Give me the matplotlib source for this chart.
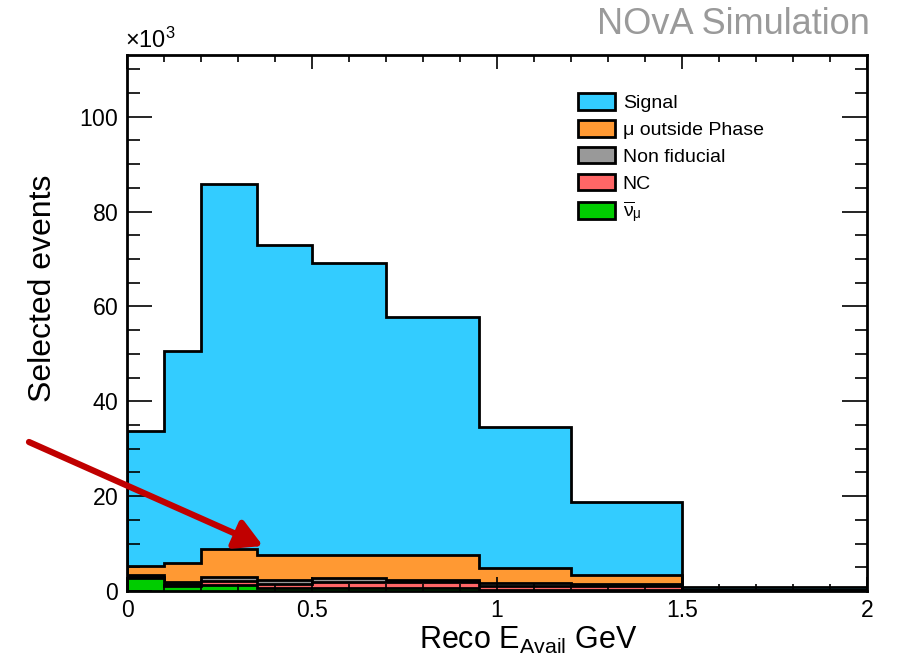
import numpy as np
import matplotlib
matplotlib.use('Agg')
import matplotlib.pyplot as plt
from matplotlib.patches import Patch
from matplotlib.ticker import MultipleLocator, ScalarFormatter, FormatStrFormatter

plt.rcParams['font.family'] = 'Liberation Sans'
plt.rcParams['mathtext.fontset'] = 'custom'
plt.rcParams['mathtext.rm'] = 'Liberation Sans'
plt.rcParams['mathtext.it'] = 'Liberation Sans:italic'
plt.rcParams['mathtext.bf'] = 'Liberation Sans:bold'

# reco available energy bins (GeV) and selected event counts per sample
edges = [0, 0.1, 0.2, 0.35, 0.5, 0.7, 0.95, 1.2, 1.5, 2.0]
signal = [28500, 44800, 77100, 65400, 61700, 50300, 29800, 15400, 500]
mu_outside = [2000, 3800, 5800, 5300, 4750, 5100, 3200, 1900, 150]
non_fiducial = [300, 500, 900, 850, 900, 600, 500, 400, 50]
nc = [250, 450, 900, 900, 1150, 1100, 800, 800, 50]
numubar = [2750, 1050, 1200, 550, 700, 700, 300, 300, 50]

labels = ['Signal', 'μ outside Phase', 'Non fiducial', 'NC',
          r'$\overline{\mathrm{ν}}_{\mathrm{μ}}$']
colors = ['#33ccff', '#ff9933', '#999999', '#ff6666', '#00cc00']

fig = plt.figure(figsize=(8.97, 6.70), dpi=100)
ax = fig.add_axes([127/897, 1 - 591/670, 740/897, 536/670])

# stack from the bottom up: numubar, NC, non fiducial, mu outside, signal
layers = [numubar, nc, non_fiducial, mu_outside, signal]
layer_colors = colors[::-1]
cum = np.cumsum(np.array(layers, dtype=float), axis=0)
for vals, col in reversed(list(zip(cum, layer_colors))):
    ax.stairs(vals, edges, fill=True, facecolor=col, edgecolor='black', lw=2)

ax.set_xlim(0, 2)
ax.set_ylim(0, 113000)

ax.xaxis.set_major_locator(MultipleLocator(0.5))
ax.xaxis.set_minor_locator(MultipleLocator(0.1))
ax.xaxis.set_major_formatter(FormatStrFormatter('%g'))
ax.yaxis.set_major_locator(MultipleLocator(20000))
ax.yaxis.set_minor_locator(MultipleLocator(5000))
fmt = ScalarFormatter(useMathText=True)
fmt.set_powerlimits((3, 3))
ax.yaxis.set_major_formatter(fmt)
# exponent drawn by hand so the multiplication sign is full size
ax.yaxis.get_offset_text().set_visible(False)
ax.text(-0.003, 1.004, '×10$^{3}$', transform=ax.transAxes, fontsize=17,
        ha='left', va='bottom')

ax.tick_params(which='both', direction='in', top=True, right=True, width=1.2,
               labelsize=16.5)
ax.tick_params(axis='x', which='major', length=10, pad=6)
ax.tick_params(axis='x', which='minor', length=5)
ax.tick_params(axis='y', which='major', length=18, pad=6)
ax.tick_params(axis='y', which='minor', length=9)
for sp in ax.spines.values():
    sp.set_linewidth(2)

ax.set_xlabel(r'Reco E$_{\mathrm{Avail}}$ GeV', fontsize=22)
ax.xaxis.set_label_coords(0.542, -0.063)
ax.set_ylabel('Selected events', fontsize=23)
ax.yaxis.set_label_coords(-0.093, 0.565)

handles = [Patch(facecolor=c, edgecolor='black', lw=2, label=l)
           for c, l in zip(colors, labels)]
ax.legend(handles=handles, loc='upper left', bbox_to_anchor=(578/897, 1 - 93/670),
          bbox_transform=fig.transFigure, frameon=False, fontsize=14,
          handlelength=1.9, handleheight=0.95, handletextpad=0.4,
          labelspacing=0.4, borderpad=0, borderaxespad=0)

fig.text(870/897, 1 - 34/670, 'NOvA Simulation', ha='right', va='baseline',
         fontsize=26, color='#9a9a9a')

ax.annotate('', xy=(263/897, 1 - 546/670), xycoords='figure fraction',
            xytext=(29/897, 1 - 442/670), textcoords='figure fraction',
            arrowprops=dict(arrowstyle='-|>,head_length=0.9,head_width=0.5',
                            color='#c00000', lw=4.5, shrinkA=0, shrinkB=0,
                            mutation_scale=18),
            annotation_clip=False)

fig.savefig('out.png', dpi=100)
